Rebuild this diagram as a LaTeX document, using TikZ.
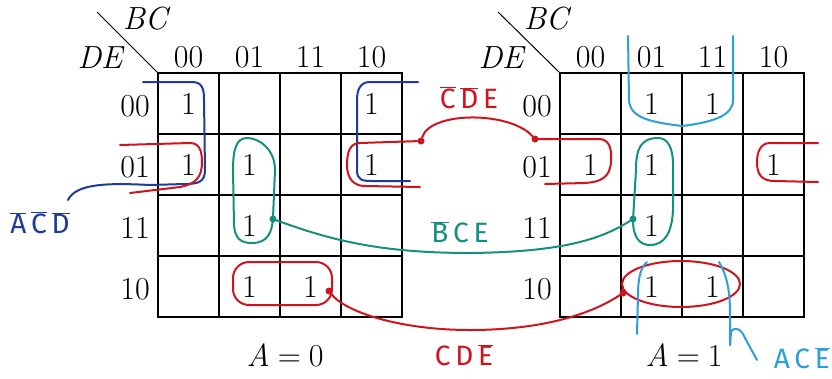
\documentclass[tikz,border=0pt]{standalone}
\usepackage{fontspec}
\newfontfamily\hand{Fira Sans}
\definecolor{kblue}{HTML}{1E3A9E}
\definecolor{kred}{HTML}{D0141E}
\definecolor{kteal}{HTML}{14907E}
\definecolor{ksky}{HTML}{2C9ED8}
\newcommand\ob[1]{$\overline{\hbox{#1}}$}
\tikzset{
  gridline/.style={line width=1.4pt, line cap=rect},
  kloop/.style={line width=2pt, line cap=round, line join=round},
  kdot/.style={circle, fill, inner sep=0pt, minimum size=7pt},
  lab/.style={font=\fontsize{32}{34}\selectfont, inner sep=0pt},
  one/.style={font=\fontsize{32}{34}\selectfont, inner sep=0pt},
  handlab/.style={font=\hand\fontsize{28}{30}\selectfont, inner sep=0pt},
}
\begin{document}
\begin{tikzpicture}[x=1pt,y=-1pt]
\useasboundingbox (0,0) rectangle (832,378);
% ---------- grids ----------
\foreach \g in {158,560}{
  \foreach \i in {0,...,4}{
    \draw[gridline] (\g+61*\i,73) -- (\g+61*\i,317);
    \draw[gridline] (\g,73+61*\i) -- (\g+244,73+61*\i);
  }
}
\draw[line width=1pt] (97,12) -- (158,73);
\draw[line width=1pt] (498,12) -- (560,73);
% ---------- headings ----------
\node[lab] (bcL) at (145,19) {\itshape BC};
\node[lab] (deL) at (100,58) {\itshape DE};
\node[lab] (bcR) at (546,19) {\itshape BC};
\node[lab] (deR) at (501,58) {\itshape DE};
\foreach \c [count=\k from 0] in {00,01,11,10}{
  \node[lab] (cL\c) at (188.5+61*\k,57) {\c};
  \node[lab] (cR\c) at (590.5+61*\k,57) {\c};
  \node[lab,anchor=east] (rL\c) at (150,106+61*\k) {\c};
  \node[lab,anchor=east] (rR\c) at (552,106+61*\k) {\c};
}
\node[lab] (aL) at (285,355) {\textit{A}\hspace{0.25em}=\hspace{0.25em}0};
\node[lab] (aR) at (684,355) {\textit{A}\hspace{0.25em}=\hspace{0.25em}1};
% ---------- ones ----------
\node[one] (L0000) at (188.5,104) {1};
\node[one] (L1000) at (371.5,104) {1};
\node[one] (L0001) at (188.5,165) {1};
\node[one] (L0101) at (249.5,165) {1};
\node[one] (L1001) at (371.5,165) {1};
\node[one] (L0111) at (249.5,226) {1};
\node[one] (L0110) at (249.5,287) {1};
\node[one] (L1110) at (310.5,287) {1};
\node[one] (R0100) at (651.5,104) {1};
\node[one] (R1100) at (712.5,104) {1};
\node[one] (R0001) at (590.5,165) {1};
\node[one] (R0101) at (651.5,165) {1};
\node[one] (R1001) at (773.5,165) {1};
\node[one] (R0111) at (651.5,226) {1};
\node[one] (R0110) at (651.5,287) {1};
\node[one] (R1110) at (712.5,287) {1};
% ---------- handwritten labels ----------
\node[handlab, text=kblue] (tACD) at (40,223) {\ob{A}\,\ob{C}\,\ob{D}};
\node[handlab, text=kred] (tCDE1) at (469,98) {\ob{C}\,\ob{D}\,E};
\node[handlab, text=kteal] (tBCE) at (460,232) {\ob{B}\,C\,E};
\node[handlab, text=kred] (tCDE2) at (464,355) {C\,D\,\ob{E}};
\node[handlab, text=ksky, anchor=east] (tACE) at (830,358) {A\,C\,\ob{E}};
% ---------- dots ----------
\node[kdot, kred] (d1) at (421,141) {};
\node[kdot, kred] (d2) at (535,139) {};
\node[kdot, kred] (d3) at (329,291) {};
\node[kdot, kred] (d4) at (623,293) {};
\node[kdot, kteal] (d5) at (273,219) {};
\node[kdot, kteal] (d6) at (633,219) {};
\coordinate (bEnd) at (150,185);
\coordinate (bTip) at (68,200);
% ---------- blue loops ----------
\draw[kloop, kblue] (143,82) -- (192,82) .. controls (203,82) and (204,90) .. (204,100)
  -- (205,170) .. controls (205,182) and (198,184) .. (185,184) -- (bEnd);
\draw[kloop, kblue] (bEnd) .. controls (110,183) and (76,183) .. (bTip);
\draw[kloop, kblue] (418,82) -- (370,82) .. controls (360,82) and (357,90) .. (357,100)
  -- (357,170) .. controls (357,180) and (362,181) .. (372,181) -- (410,181);
% ---------- red loops ----------
\draw[kloop, kred] (120,145) -- (190,143) .. controls (200,143) and (202,152) .. (202,162)
  .. controls (202,178) and (195,184) .. (180,187) -- (130,193);
\draw[kloop, kred] (d1) -- (360,143) .. controls (350,143) and (347,152) .. (347,165)
  .. controls (347,180) and (355,186) .. (365,186) -- (420,187);
\draw[kloop, kred] (d1) .. controls (430,111) and (510,111) .. (d2);
\draw[kloop, kred] (d2) -- (600,139) .. controls (610,140) and (612,150) .. (611,162)
  .. controls (610,178) and (600,182) .. (585,183) -- (545,184);
\draw[kloop, kred] (818,143) -- (770,143) .. controls (760,143) and (757,153) .. (757,162)
  .. controls (757,175) and (762,181) .. (775,181) -- (818,182);
\draw[kloop, kred, rounded corners=16] (233,262) rectangle (332,305);
\draw[kloop, kred] (681,284) ellipse [x radius=59, y radius=23];
\draw[kloop, kred] (d3) .. controls (345,312) and (400,330) .. (470,330)
  .. controls (540,330) and (590,315) .. (d4);
% ---------- teal loops ----------
\draw[kloop, kteal] (247,138) .. controls (236,138) and (233,150) .. (233,170) -- (234,225)
  .. controls (235,238) and (240,243) .. (252,243) .. controls (268,243) and (272,232) .. (273,218)
  -- (275,170) .. controls (275,150) and (260,138) .. (247,138);
\draw[kloop, kteal] (658,138) .. controls (640,138) and (636,150) .. (636,170) -- (633,220)
  .. controls (633,238) and (640,245) .. (650,245) .. controls (665,245) and (672,232) .. (673,210)
  -- (673,165) .. controls (673,148) and (668,138) .. (658,138);
\draw[kloop, kteal] (d5) .. controls (330,240) and (380,253) .. (470,253)
  .. controls (560,252) and (600,240) .. (d6);
% ---------- light blue ----------
\draw[kloop, ksky] (628,36) -- (629,100) .. controls (630,118) and (650,122) .. (682,126)
  .. controls (715,122) and (733,115) .. (733,100) -- (733,36);
\draw[kloop, ksky] (647,262) .. controls (640,268) and (638,280) .. (638,295) -- (637,334);
\draw[kloop, ksky] (719,262) .. controls (727,275) and (730,292) .. (730,312) -- (730,345);
\draw[kloop, ksky] (730,345) -- (731,332) .. controls (735,325) and (742,330) .. (745,338) -- (757,360);
\end{tikzpicture}
\end{document}
